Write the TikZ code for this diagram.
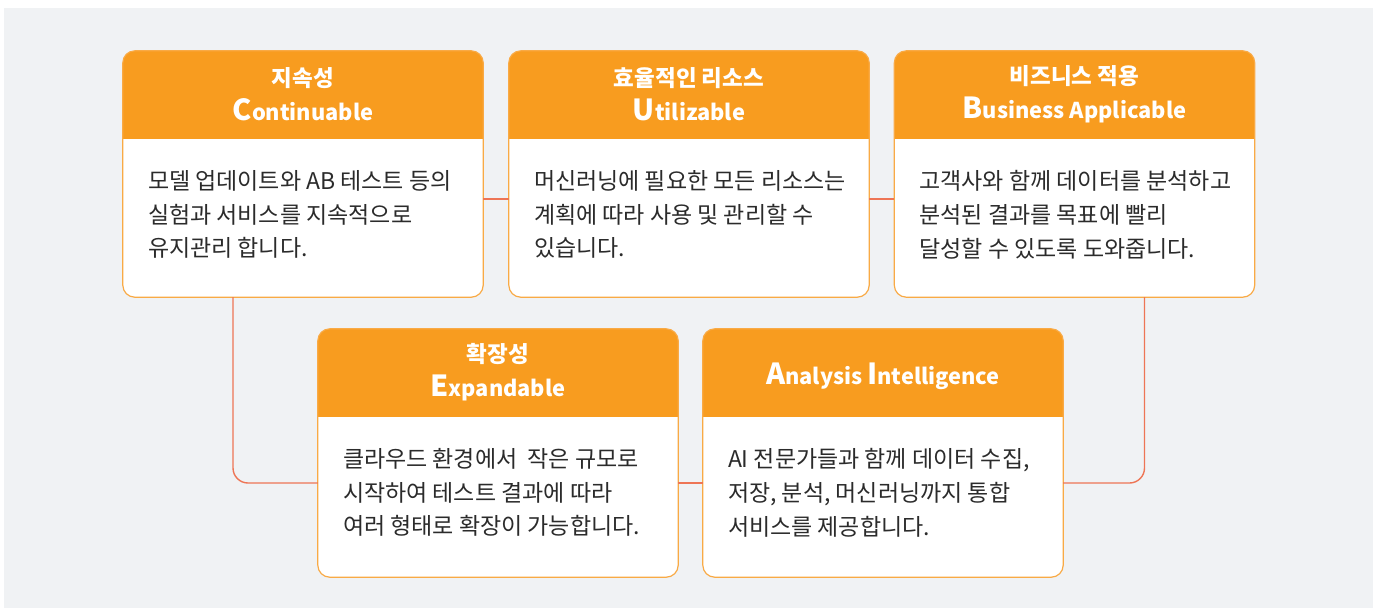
\documentclass[tikz,border=0pt]{standalone}
\usepackage{fontspec}
\setmainfont{Noto Sans CJK KR}
\definecolor{bgc}{HTML}{F0F2F4}
\definecolor{hdrc}{HTML}{F89C1F}
\definecolor{edgec}{HTML}{F9AA45}
\definecolor{connc}{HTML}{EE7555}
\definecolor{txtc}{HTML}{2B2B2B}
\newcommand\BL[1]{{\fontsize{29pt}{29pt}\selectfont #1}}
\newcommand\LT[1]{{\fontsize{21.8pt}{34pt}\selectfont #1}}
% \mkcard{name}{cx}{cy}{height}{header}{body}{header shift}
\newcommand\mkcard[7]{%
  \node[card, minimum height=#4pt] (#1) at (#2,#3) {};
  \fill[hdrc, rounded corners=12pt] (#1.north west) rectangle ([yshift=-88pt]#1.north east);
  \fill[hdrc] ([yshift=-60pt]#1.north west) rectangle ([yshift=-88pt]#1.north east);
  \draw[edgec, line width=1.2pt, rounded corners=12pt] (#1.north west) rectangle (#1.south east);
  \node[hdrtext] (#1-h) at ([yshift=-#7pt]#1.north) {#5};
  \node[bodytext] (#1-b) at ([xshift=25pt,yshift=-119.5pt]#1.north west) {#6};
}
\begin{document}
\begin{tikzpicture}[x=1pt,y=-1pt,
  card/.style={rectangle, fill=white, minimum width=360pt, inner sep=0pt, rounded corners=12pt},
  hdrtext/.style={text=white, font=\bfseries\fontsize{22.5pt}{34pt}\selectfont, align=center, inner sep=0pt},
  bodytext/.style={text=txtc, font=\fontsize{23pt}{33.7pt}\selectfont, align=left, anchor=north west, inner sep=0pt},
  connl/.style={draw=connc, line width=1.4pt, rounded corners=15pt}]
\useasboundingbox (0,0) rectangle (1381,608);
\fill[bgc] (4,8) rectangle (1373,608);

\mkcard{c1}{303}{174}{246}{지속성\\\LT{\BL{C}ontinuable}}{모델 업데이트와 AB 테스트 등의\\실험과 서비스를 지속적으로\\유지관리 합니다.}{43.5}
\mkcard{c2}{689}{174}{246}{효율적인 리소스\\\LT{\BL{U}tilizable}}{머신러닝에 필요한 모든 리소스는\\계획에 따라 사용 및 관리할 수\\있습니다.}{43.5}
\mkcard{c3}{1074.5}{174}{246}{비즈니스 적용\\\LT{\BL{B}usiness Applicable}}{고객사와 함께 데이터를 분석하고\\분석된 결과를 목표에 빨리\\달성할 수 있도록 도와줍니다.}{43.5}
\mkcard{c4}{498}{453}{248}{확장성\\\LT{\BL{E}xpandable}}{클라우드 환경에서\ \ 작은 규모로\\시작하여 테스트 결과에 따라\\여러 형태로 확장이 가능합니다.}{43.5}
\mkcard{c5}{883}{453}{248}{\LT{\BL{A}nalysis \BL{I}ntelligence}}{AI 전문가들과 함께 데이터 수집,\\저장, 분석, 머신러닝까지 통합\\서비스를 제공합니다.}{47}

\draw[connl] ([yshift=-25pt]c1.east) -- ([yshift=-25pt]c2.west);
\draw[connl] ([yshift=-25pt]c2.east) -- ([yshift=-25pt]c3.west);
\draw[connl] ([yshift=-30pt]c4.east) -- ([yshift=-30pt]c5.west);
\draw[connl] ([xshift=-70pt]c1.south) |- ([yshift=-30pt]c4.west);
\draw[connl] ([xshift=70pt]c3.south) |- ([yshift=-30pt]c5.east);
\end{tikzpicture}
\end{document}
